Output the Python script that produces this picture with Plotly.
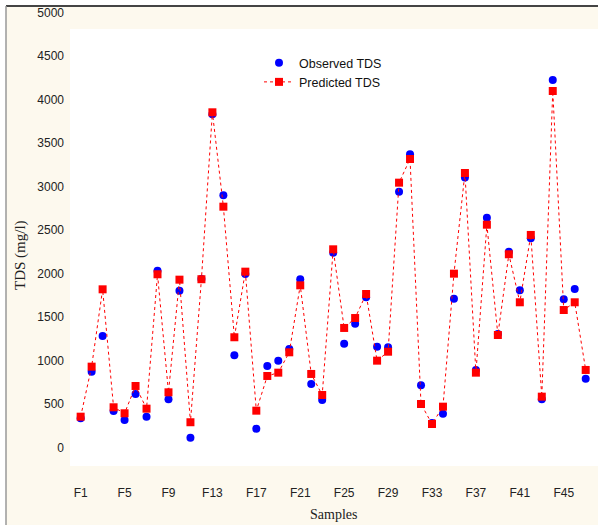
import plotly.graph_objects as go

samples = [f"F{i}" for i in range(1, 48)]
observed = [336, 871, 1282, 420, 316, 615, 354, 2032, 554, 1802, 113, 1937,
            3830, 2899, 1060, 1994, 216, 937, 998, 1132, 1933, 730, 546, 2239,
            1193, 1423, 1726, 1159, 1152, 2940, 3370, 715, 282, 388, 1710, 3103,
            891, 2641, 1305, 2251, 1807, 2405, 554, 4224, 1703, 1822, 791]
predicted = [354, 929, 1818, 462, 393, 707, 446, 1991, 634, 1929, 290, 1934,
             3853, 2768, 1267, 2021, 423, 822, 860, 1094, 1864, 845, 603, 2278,
             1374, 1488, 1764, 998, 1101, 3044, 3316, 500, 270, 469, 1998, 3155,
             860, 2561, 1293, 2221, 1669, 2443, 584, 4098, 1580, 1669, 891]
y_ticks = [0, 500, 1000, 1500, 2000, 2500, 3000, 3500, 4000, 4500, 5000]
x_tick_labels = samples[::4]

xs = list(range(1, len(samples) + 1))

W, H = 598, 525
ML, MR, MT, MB = 70, 0, 12, 59
PW, PH = W - ML - MR, H - MT - MB

def px(x):
    return (x - ML) / PW

def py(y):
    return (H - MB - y) / PH

fig = go.Figure()
fig.add_trace(go.Scatter(
    x=xs, y=observed, mode="markers", name="Observed TDS",
    marker=dict(symbol="circle", size=8, color="#0000FF"),
))
fig.add_trace(go.Scatter(
    x=xs, y=predicted, mode="lines+markers", name="Predicted TDS",
    marker=dict(symbol="square", size=8, color="#FF0000"),
    line=dict(color="#FF0000", width=1, dash="3px,3px"),
))

shapes = [
    dict(type="rect", xref="paper", yref="paper", x0=px(6), x1=px(W), y0=py(H), y1=py(6),
         fillcolor="rgb(253,249,238)", line=dict(width=0), layer="below"),
    dict(type="rect", xref="paper", yref="paper", x0=px(70), x1=px(W), y0=py(466), y1=py(29),
         fillcolor="white", line=dict(width=0), layer="below"),
    dict(type="line", xref="paper", yref="paper", x0=px(6), x1=px(W), y0=py(6), y1=py(6),
         line=dict(color="#444444", width=2)),
    dict(type="line", xref="paper", yref="paper", x0=px(6), x1=px(6), y0=py(6), y1=py(H),
         line=dict(color="#999999", width=1.5)),
]

annotations = [
    dict(text="TDS (mg/l)", xref="paper", yref="paper", x=px(20), y=py(255),
         textangle=-90, showarrow=False, xanchor="center", yanchor="middle",
         font=dict(family="Liberation Serif", size=15, color="#222222")),
    dict(text="Samples", xref="paper", yref="paper", x=px(333), y=py(514),
         showarrow=False, xanchor="center", yanchor="middle",
         font=dict(family="Liberation Serif", size=14, color="#222222")),
]

fig.update_layout(
    width=W, height=H,
    margin=dict(l=ML, r=MR, t=MT, b=MB),
    paper_bgcolor="white",
    plot_bgcolor="rgba(0,0,0,0)",
    shapes=shapes,
    annotations=annotations,
    font=dict(family="Liberation Sans", size=12, color="#222222"),
    legend=dict(
        x=px(259), y=py(48), xanchor="left", yanchor="top",
        bgcolor="rgba(0,0,0,0)", font=dict(size=12.5, family="Liberation Sans", color="#111111"),
        tracegroupgap=0, itemwidth=30,
    ),
)
fig.update_xaxes(
    range=[0.03, 48.12], tickvals=xs[::4], ticktext=x_tick_labels,
    showgrid=False, zeroline=False, showline=False, ticks="",
    ticklabelstandoff=18, tickfont=dict(size=12),
)
fig.update_yaxes(
    range=[-213, 5006], tickvals=y_ticks,
    showgrid=False, zeroline=False, showline=False, ticks="",
    ticklabelstandoff=5, tickfont=dict(size=12),
)

fig.write_html(
    "out.html",
    config={"displayModeBar": False},
    post_script="document.body.style.margin='0';document.body.style.overflow='hidden';",
)
